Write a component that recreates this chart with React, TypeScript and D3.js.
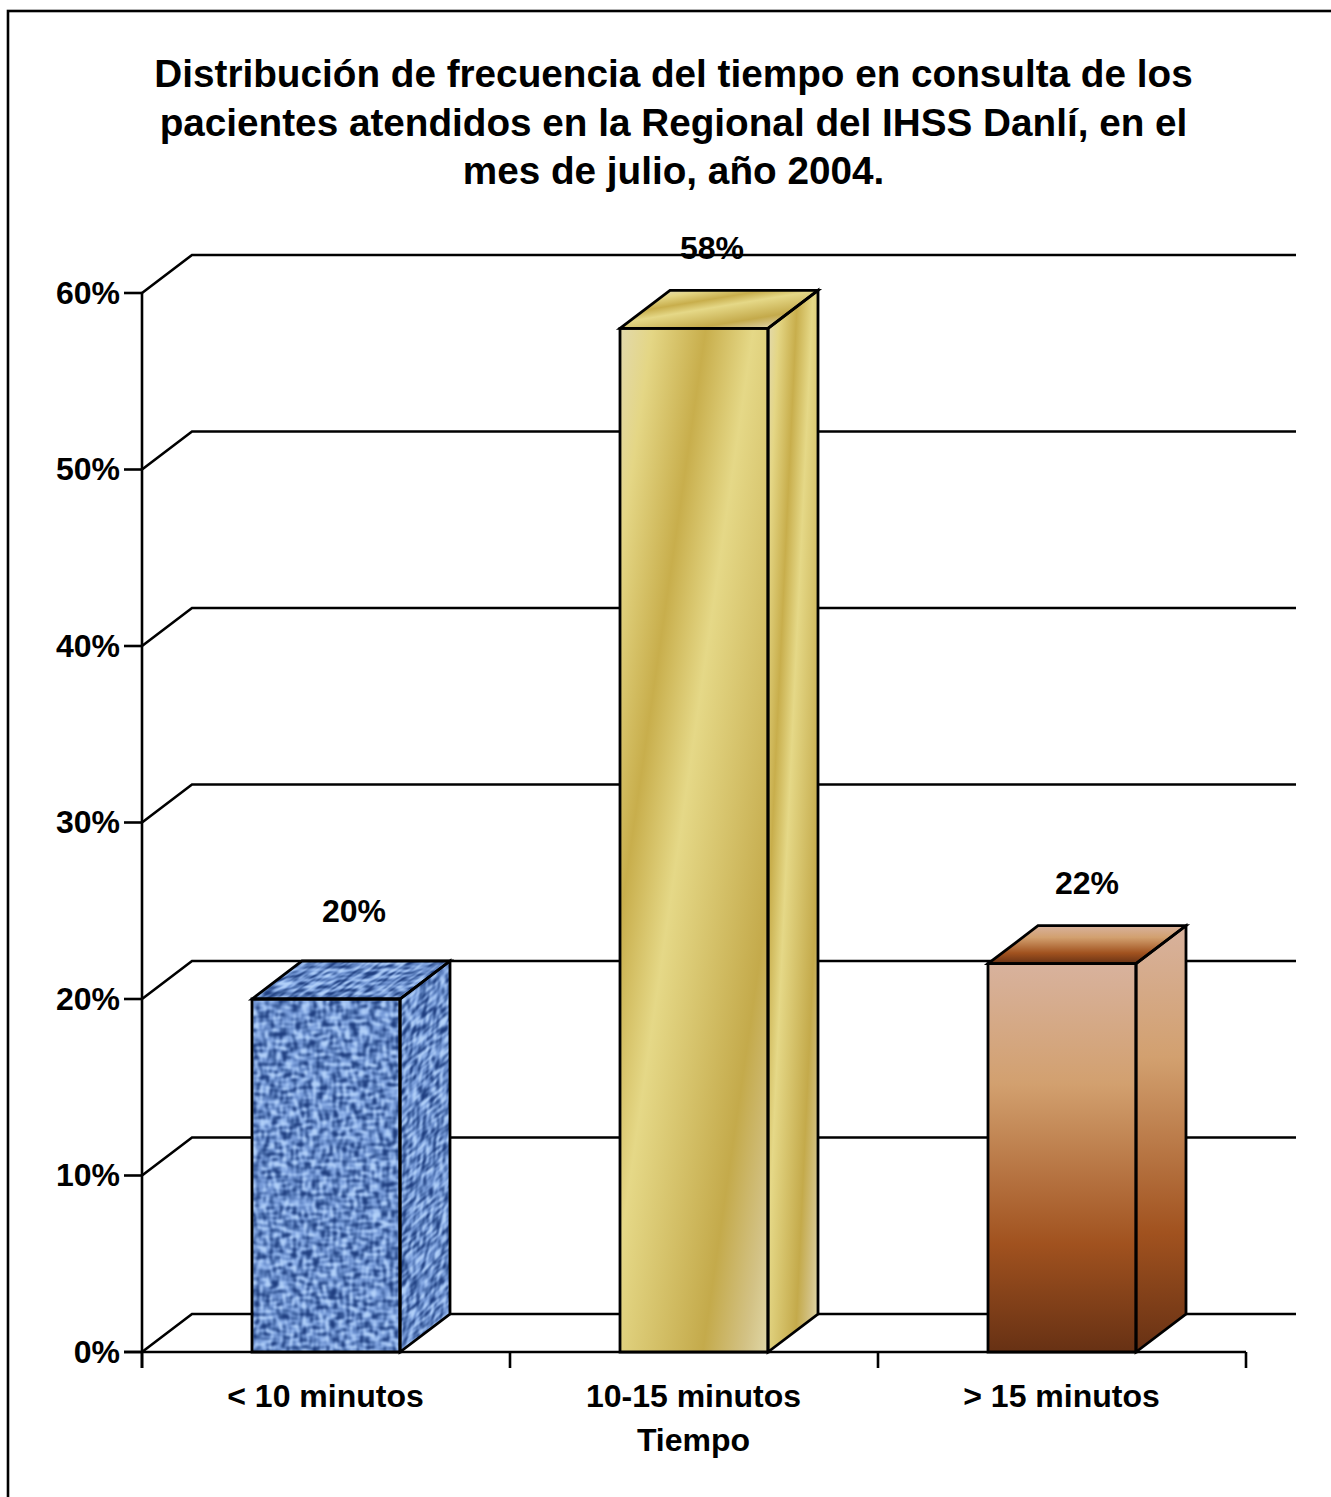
import React from "react";
import * as d3 from "d3";

// Chart content
const titleLines = [
  "Distribución de frecuencia del tiempo en consulta de los",
  "pacientes atendidos en la Regional del IHSS Danlí, en el",
  "mes de julio, año 2004.",
];
const categories = ["< 10 minutos", "10-15 minutos", "> 15 minutos"];
const percentages = [20, 58, 22];
const yTicks = [0, 10, 20, 30, 40, 50, 60];
const axisTitle = "Tiempo";

// Hand-placed offsets of the value labels from each bar's front-top centre
const labelDx = [28, 18, 25];
const labelDy = [-77, -69, -70];

// Gold brushed-metal ramp, shared by all faces of the middle bar
const goldStops: [number, string][] = [
  [0, "#e2d9ac"],
  [0.11, "#e4d685"],
  [0.29, "#c8ae4c"],
  [0.45, "#e5d887"],
  [0.78, "#c4aa4b"],
  [0.92, "#d3c285"],
  [1, "#e0d7a6"],
];
// Copper ramp, running top to bottom
const copperStops: [number, string][] = [
  [0, "#d8b29d"],
  [0.31, "#d2a06f"],
  [0.72, "#a1521f"],
  [1, "#673114"],
];

const W = 1331;
const H = 1497;
const FONT = "'Liberation Sans', Arial, sans-serif";
const DEPTH_X = 50;
const DEPTH_Y = 38;
const BAR_W = 148;
const LINE = 2.6;

const x = d3.scaleBand<string>().domain(categories).range([142, 1246]);
const y = d3.scaleLinear().domain([0, 60]).range([1352, 293]);
const axisTickX = [0, 1, 2, 3].map((i) => 142 + i * x.bandwidth());

const poly = (pts: [number, number][]) => d3.line()(pts) + "Z";

// Gradient vector whose ends are the two extreme corners, with stripes tilted by slope k
function tilted(
  id: string,
  stops: [number, string][],
  x0: number,
  y0: number,
  dx: number,
  dy: number,
  kx: number,
  ky: number
) {
  const s = (dx * kx + dy * ky) / (kx * kx + ky * ky);
  return (
    <linearGradient
      key={id}
      id={id}
      gradientUnits="userSpaceOnUse"
      x1={x0}
      y1={y0}
      x2={x0 + s * kx}
      y2={y0 + s * ky}
    >
      {stops.map(([o, c]) => (
        <stop key={o} offset={o} stopColor={c} />
      ))}
    </linearGradient>
  );
}

// Soft woven cloth: crossed noise threads mapped onto a blue ramp
function Denim({ seed, id }: { seed: number; id: string }) {
  return (
    <filter id={id} x="0" y="0" width="1" height="1" colorInterpolationFilters="sRGB">
      <feTurbulence type="fractalNoise" baseFrequency="0.1 0.3" numOctaves={1} seed={seed} result="a" />
      <feTurbulence type="fractalNoise" baseFrequency="0.3 0.1" numOctaves={1} seed={seed + 7} result="b" />
      <feComposite in="a" in2="b" operator="arithmetic" k1={0} k2={0.5} k3={0.5} k4={0} />
      <feColorMatrix
        type="matrix"
        values="4 0 0 0 -1.5  4 0 0 0 -1.5  4 0 0 0 -1.5  0 0 0 0 1"
      />
      <feComponentTransfer>
        <feFuncR type="table" tableValues="0.12 0.26 0.42 0.56 0.70" />
        <feFuncG type="table" tableValues="0.24 0.40 0.56 0.70 0.82" />
        <feFuncB type="table" tableValues="0.50 0.64 0.81 0.92 0.98" />
      </feComponentTransfer>
      <feGaussianBlur stdDeviation={0.8} />
    </filter>
  );
}

export default function App() {
  const fills = ["blue", "gold", "copper"];

  const bars = categories.map((c, i) => {
    const xl = (x(c) as number) + (x.bandwidth() - BAR_W) / 2;
    const xr = xl + BAR_W;
    const top = y(percentages[i]);
    const bot = y(0);
    return {
      c,
      i,
      xl,
      xr,
      top,
      bot,
      front: [[xl, top], [xr, top], [xr, bot], [xl, bot]] as [number, number][],
      side: [[xr, top], [xr + DEPTH_X, top - DEPTH_Y], [xr + DEPTH_X, bot - DEPTH_Y], [xr, bot]] as [number, number][],
      cap: [[xl, top], [xl + DEPTH_X, top - DEPTH_Y], [xr + DEPTH_X, top - DEPTH_Y], [xr, top]] as [number, number][],
    };
  });

  const gold = bars[1];
  const goldH = gold.bot - gold.top;

  const faceFill = (kind: string, face: string) =>
    kind === "gold" ? `url(#gold-${face})` : "url(#copper)";

  return (
    <svg
      width={W}
      height={H}
      viewBox={`0 0 ${W} ${H}`}
      style={{ position: "absolute", left: 0, top: 0, display: "block", background: "#fff" }}
      fontFamily={FONT}
      fontWeight="bold"
    >
      <defs>
        {tilted("gold-front", goldStops, gold.xl, gold.top, BAR_W, goldH, 1, 0.145)}
        {tilted("gold-side", goldStops, gold.xr, gold.top, DEPTH_X, goldH - DEPTH_Y, 1, 0.047)}
        {tilted("gold-cap", goldStops, gold.xl + DEPTH_X, gold.top - DEPTH_Y, BAR_W - DEPTH_X, DEPTH_Y, 0.165, 1)}
        <linearGradient id="copper" x1="0" y1="0" x2="0" y2="1">
          {copperStops.map(([o, col]) => (
            <stop key={o} offset={o} stopColor={col} />
          ))}
        </linearGradient>
        <Denim id="denim-front" seed={4} />
        <Denim id="denim-side" seed={11} />
        <Denim id="denim-cap" seed={23} />
        {bars.map((b) => (
          <React.Fragment key={b.i}>
            <clipPath id={`clip-front-${b.i}`}><path d={poly(b.front)} /></clipPath>
            <clipPath id={`clip-side-${b.i}`}><path d={poly(b.side)} /></clipPath>
            <clipPath id={`clip-cap-${b.i}`}><path d={poly(b.cap)} /></clipPath>
          </React.Fragment>
        ))}
      </defs>

      {/* Outer frame runs off the right and bottom of the page */}
      <rect x={8} y={11} width={W + 40} height={H + 40} fill="none" stroke="#000" strokeWidth={2.6} />

      {titleLines.map((t, i) => (
        <text key={t} x={673.5} y={87 + i * 48.6} textAnchor="middle" fontSize={38.7} fill="#000">
          {t}
        </text>
      ))}

      {/* Walls: back gridlines and the diagonal floor-to-wall joins */}
      <g stroke="#000" strokeWidth={LINE} fill="none">
        {yTicks.map((t) => (
          <path
            key={t}
            d={d3.line()([
              [142, y(t)],
              [142 + DEPTH_X, y(t) - DEPTH_Y],
              [1246 + DEPTH_X, y(t) - DEPTH_Y],
            ]) as string}
          />
        ))}
      </g>

      {/* Axes */}
      <g stroke="#000" strokeWidth={LINE}>
        <line x1={142} x2={142} y1={y(60)} y2={1368} />
        <line x1={124} x2={1246} y1={y(0)} y2={y(0)} />
        {yTicks.map((t) => (
          <line key={t} x1={124} x2={142} y1={y(t)} y2={y(t)} />
        ))}
        {axisTickX.map((t) => (
          <line key={t} x1={t} x2={t} y1={y(0)} y2={1368} />
        ))}
      </g>

      {/* Bars */}
      {bars.map((b) => {
        const kind = fills[b.i];
        return (
          <g key={b.i}>
            {kind === "blue" ? (
              <>
                <g clipPath={`url(#clip-front-${b.i})`}>
                  <rect x={b.xl} y={b.top} width={BAR_W} height={b.bot - b.top} filter="url(#denim-front)" />
                </g>
                <g clipPath={`url(#clip-side-${b.i})`}>
                  <g transform={`translate(${b.xr},${b.top}) skewY(${-Math.atan2(DEPTH_Y, DEPTH_X) * 180 / Math.PI})`}>
                    <rect x={0} y={-2} width={DEPTH_X + 2} height={b.bot - b.top + 4} filter="url(#denim-side)" />
                  </g>
                </g>
                <g clipPath={`url(#clip-cap-${b.i})`}>
                  <g transform={`translate(${b.xl},${b.top}) skewX(${-Math.atan2(DEPTH_X, DEPTH_Y) * 180 / Math.PI})`}>
                    <rect x={-2} y={-DEPTH_Y - 2} width={BAR_W + 4} height={DEPTH_Y + 4} filter="url(#denim-cap)" />
                  </g>
                </g>
              </>
            ) : (
              <>
                <path d={poly(b.front)} fill={faceFill(kind, "front")} />
                <path d={poly(b.side)} fill={faceFill(kind, "side")} />
                <path d={poly(b.cap)} fill={faceFill(kind, "cap")} />
              </>
            )}
            <g fill="none" stroke="#000" strokeWidth={2.8} strokeLinejoin="miter">
              <path d={poly(b.front)} />
              <path d={poly(b.side)} />
              <path d={poly(b.cap)} />
            </g>
          </g>
        );
      })}

      {/* Value labels */}
      {bars.map((b) => (
        <text
          key={b.i}
          x={(b.xl + b.xr) / 2 + labelDx[b.i]}
          y={b.top + labelDy[b.i]}
          textAnchor="middle"
          fontSize={32}
          fill="#000"
        >
          {d3.format("d")(percentages[b.i])}%
        </text>
      ))}

      {/* Y tick labels */}
      {yTicks.map((t) => (
        <text key={t} x={120} y={y(t) + 10.5} textAnchor="end" fontSize={32} fill="#000">
          {t}%
        </text>
      ))}

      {/* Category labels and axis title */}
      {categories.map((c) => (
        <text
          key={c}
          x={(x(c) as number) + x.bandwidth() / 2 - 0.5}
          y={1407}
          textAnchor="middle"
          fontSize={32}
          fill="#000"
        >
          {c}
        </text>
      ))}
      <text x={693.5} y={1451} textAnchor="middle" fontSize={32} fill="#000">
        {axisTitle}
      </text>
    </svg>
  );
}
